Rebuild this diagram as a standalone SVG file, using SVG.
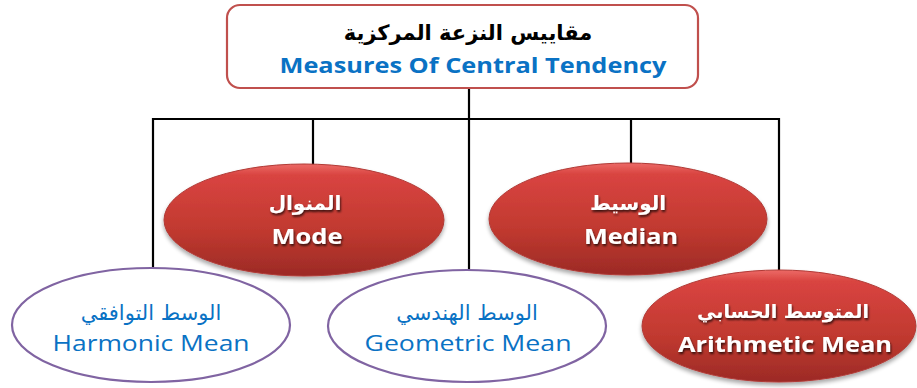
<svg xmlns="http://www.w3.org/2000/svg" width="917" height="388" viewBox="0 0 917 388">
<defs>
<linearGradient id="red" x1="0" y1="0" x2="0" y2="1">
<stop offset="0" stop-color="#ec6a66"/>
<stop offset="0.1" stop-color="#d94441"/>
<stop offset="0.6" stop-color="#c0392f"/>
<stop offset="1" stop-color="#9c2a26"/>
</linearGradient>
<filter id="sh" x="-10%" y="-10%" width="120%" height="130%">
<feGaussianBlur in="SourceAlpha" stdDeviation="2"/>
<feOffset dx="0" dy="3"/>
<feComponentTransfer><feFuncA type="linear" slope="0.35"/></feComponentTransfer>
<feMerge><feMergeNode/><feMergeNode in="SourceGraphic"/></feMerge>
</filter>
<filter id="tsh" x="-10%" y="-30%" width="120%" height="160%">
<feGaussianBlur in="SourceAlpha" stdDeviation="1"/>
<feOffset dx="1" dy="1.5"/>
<feComponentTransfer><feFuncA type="linear" slope="0.7"/></feComponentTransfer>
<feMerge><feMergeNode/><feMergeNode in="SourceGraphic"/></feMerge>
</filter>
</defs>
<style>
.conn{stroke:#000;stroke-width:2.2;fill:none}
.red{fill:url(#red);stroke:#b03a36;stroke-width:1;filter:url(#sh)}
.white{fill:#fff;stroke:#8064a2;stroke-width:2.2}
.ar{font-family:"DejaVu Sans",sans-serif;text-anchor:middle}
.en{font-family:"Open Sans","Liberation Sans",sans-serif;text-anchor:middle}
.wt{fill:#fff;font-weight:bold;filter:url(#tsh)}
.bl{fill:#0a72c4}
</style>
<rect width="917" height="388" fill="#fff"/>
<g id="connectors">
<line class="conn" x1="469" y1="88" x2="469" y2="272"/>
<line class="conn" x1="152" y1="119" x2="780" y2="119"/>
<line class="conn" x1="153" y1="118" x2="153" y2="270"/>
<line class="conn" x1="313" y1="118" x2="313" y2="166"/>
<line class="conn" x1="631" y1="118" x2="631" y2="166"/>
<line class="conn" x1="779" y1="118" x2="779" y2="272"/>
</g>
<g id="root">
<rect x="227" y="5" width="471" height="83" rx="13" fill="#fff" stroke="#c0504d" stroke-width="2.2"/>
<text class="ar" x="468" y="40" font-size="21" font-weight="bold" fill="#000">مقاييس النزعة المركزية</text>
<text class="en bl" x="473" y="73" font-size="22" font-weight="bold" textLength="387" lengthAdjust="spacingAndGlyphs">Measures Of Central Tendency</text>
</g>
<g id="mode">
<ellipse class="red" cx="304" cy="220" rx="140" ry="56"/>
<text class="ar wt" x="305" y="210" font-size="20">المنوال</text>
<text class="en wt" x="307" y="244" font-size="22" textLength="71" lengthAdjust="spacingAndGlyphs">Mode</text>
</g>
<g id="median">
<ellipse class="red" cx="628" cy="219" rx="139" ry="56"/>
<text class="ar wt" x="628" y="210" font-size="20">الوسيط</text>
<text class="en wt" x="631" y="244" font-size="22" textLength="94" lengthAdjust="spacingAndGlyphs">Median</text>
</g>
<g id="harmonic">
<ellipse class="white" cx="151" cy="325" rx="139" ry="57"/>
<text class="ar bl" x="151" y="320" font-size="21">الوسط التوافقي</text>
<text class="en bl" x="151" y="351" font-size="22" textLength="197" lengthAdjust="spacingAndGlyphs">Harmonic Mean</text>
</g>
<g id="geometric">
<ellipse class="white" cx="467" cy="326" rx="139" ry="56"/>
<text class="ar bl" x="467" y="320" font-size="21">الوسط الهندسي</text>
<text class="en bl" x="468" y="351" font-size="22" textLength="207" lengthAdjust="spacingAndGlyphs">Geometric Mean</text>
</g>
<g id="arithmetic">
<ellipse class="red" cx="779" cy="326" rx="137" ry="56"/>
<text class="ar wt" x="783" y="318" font-size="19">المتوسط الحسابي</text>
<text class="en wt" x="785" y="352" font-size="22" textLength="214" lengthAdjust="spacingAndGlyphs">Arithmetic Mean</text>
</g>
</svg>
